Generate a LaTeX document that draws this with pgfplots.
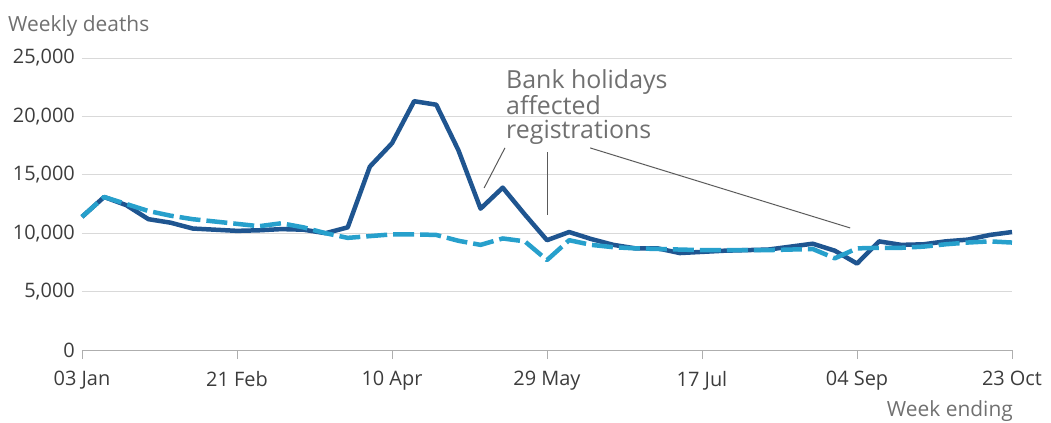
\documentclass[border=0pt]{standalone}
\usepackage{pgfplots}
\pgfplotsset{compat=1.18}
\usepackage{fontspec}
\setmainfont{Open Sans}
\definecolor{dark}{HTML}{1F5590}
\definecolor{sky}{HTML}{27A0CC}
\definecolor{txt}{HTML}{707070}
\definecolor{ticktxt}{HTML}{3C3C3C}
\definecolor{gridc}{HTML}{D9D9D9}

\begin{document}
\begin{tikzpicture}
\useasboundingbox (-82bp,-73bp) rectangle (969bp,350bp);
\begin{axis}[
  scale only axis, width=930bp, height=292bp,
  at={(0,0)}, anchor=south west,
  xmin=1, xmax=43, ymin=0, ymax=25000,
  axis lines*=left,
  y axis line style={draw=none},
  x axis line style={draw=gridc!80!black, line width=0.8bp},
  xtick={1,8,15,22,29,36,43},
  xticklabels={03 Jan,21 Feb,10 Apr,29 May,17 Jul,04 Sep,23 Oct},
  ytick={0,5000,10000,15000,20000,25000},
  tick align=outside, major tick length=9bp,
  xtick style={draw=gridc!80!black, line width=0.8bp},
  ytick style={draw=none},
  ymajorgrids, grid style={gridc, line width=0.8bp},
  tick label style={font=\fontsize{20}{22}\selectfont, text=ticktxt},
  yticklabel style={inner sep=0pt, xshift=2bp},
  xticklabel style={inner sep=0pt, yshift=-12bp},
  /pgf/number format/.cd, 1000 sep={,}, assume math mode=true,
  /pgfplots/.cd,
  scaled y ticks=false,
  clip=false,
]
\addplot[dark, line width=4.5bp, line join=round] coordinates {
(1,11400) (2,13100) (3,12400) (4,11200) (5,10900) (6,10400) (7,10300)
(8,10200) (9,10250) (10,10350) (11,10300) (12,10000) (13,10500) (14,15700)
(15,17700) (16,21300) (17,21000) (18,17100) (19,12100) (20,13900) (21,11600)
(22,9400) (23,10100) (24,9500) (25,9000) (26,8700) (27,8700) (28,8300)
(29,8400) (30,8500) (31,8550) (32,8600) (33,8850) (34,9100) (35,8500)
(36,7400) (37,9300) (38,9000) (39,9050) (40,9300) (41,9450) (42,9850) (43,10100)
};
\addplot[sky, line width=4.5bp, dash pattern=on 21bp off 6bp, line join=round] coordinates {
(1,11400) (2,13100) (3,12500) (4,11900) (5,11500) (6,11200) (7,11000)
(8,10800) (9,10600) (10,10850) (11,10500) (12,10000) (13,9600) (14,9750)
(15,9900) (16,9900) (17,9850) (18,9350) (19,9000) (20,9550) (21,9300)
(22,7700) (23,9400) (24,9000) (25,8800) (26,8700) (27,8650) (28,8600)
(29,8550) (30,8550) (31,8550) (32,8550) (33,8600) (34,8650) (35,7850)
(36,8700) (37,8750) (38,8750) (39,8850) (40,9050) (41,9200) (42,9300) (43,9200)
};
\draw[txt!80!black, line width=1bp] (axis cs:20.1,17300) -- (axis cs:19.16,13870);
\draw[txt!80!black, line width=1bp] (axis cs:22.0,16950) -- (axis cs:22.0,11560);
\draw[txt!80!black, line width=1bp] (axis cs:23.95,17300) -- (axis cs:35.69,10450);
\node[anchor=north west, align=left, inner sep=0pt, text=txt,
  font=\fontsize{25}{24}\selectfont] at (axis cs:20.15,24000)
  {Bank holidays\\affected\\registrations};
\end{axis}
\node[anchor=west, inner sep=0pt, text=txt, font=\fontsize{21}{24}\selectfont] at (-74bp,324bp) {Weekly deaths};
\node[anchor=east, inner sep=0pt, text=txt, font=\fontsize{21}{24}\selectfont] at (931bp,-61bp) {Week ending};
\end{tikzpicture}
\end{document}
